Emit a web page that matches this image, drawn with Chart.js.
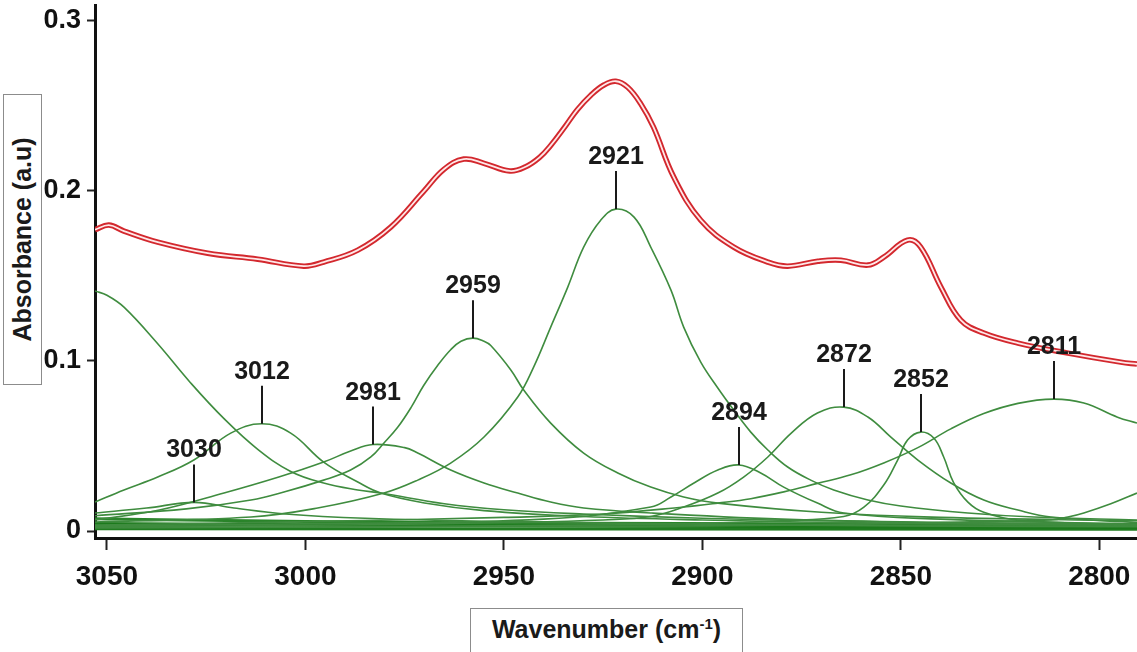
<!DOCTYPE html>
<html>
<head>
<meta charset="utf-8">
<script src="https://cdn.jsdelivr.net/npm/chart.js@4.4.1/dist/chart.umd.min.js"></script>
<style>
  body { margin: 0; background: #fff; }
  #wrap { position: relative; width: 1137px; height: 652px; overflow: hidden; }
  .axis-title {
    position: absolute; box-sizing: border-box; border: 1.5px solid #8c8c8c;
    font: bold 25px "Liberation Sans", Arial, sans-serif; color: #1a1a1a;
    display: flex; align-items: center; justify-content: center; background: #fff;
  }
  #ytitle { left: 3px; top: 94px; width: 39px; height: 291px; }
  #ytitle span { transform: rotate(-90deg); white-space: nowrap; }
  #xtitle { left: 470px; top: 608px; width: 273px; height: 60px; align-items: flex-start; padding-top: 6px; }
  #xtitle sup { font-size: 15px; vertical-align: 9px; line-height: 0; }
</style>
</head>
<body>
<div id="wrap">
  <canvas id="grafica"></canvas>
  <div class="axis-title" id="ytitle"><span>Absorbance (a.u)</span></div>
  <div class="axis-title" id="xtitle"><span>Wavenumber (cm<sup>-1</sup>)</span></div>
</div>
<script>
// ticks
const xTickValues = [3050, 3000, 2950, 2900, 2850, 2800];
const yTickValues = [0, 0.1, 0.2, 0.3];
const yTickLabels = ['0', '0.1', '0.2', '0.3'];

// peak annotations
const peakLabels = ['3030', '3012', '2981', '2959', '2921', '2894', '2872', '2852', '2811'];
const peakWn = [3028, 3011, 2983, 2957.8, 2921.8, 2890.8, 2864.4, 2845, 2811.5];
const peakAbs = [0.0168, 0.0630, 0.0508, 0.1133, 0.1891, 0.0388, 0.0728, 0.0581, 0.0775];

// measured / fitted spectrum [wavenumber, absorbance]
const spectrum = [[3053,0.1770],[3049.5,0.1797],[3045.7,0.1762],[3037.2,0.1697],[3024.6,0.1632],[3012,0.1597],
  [3000.4,0.1556],[2995.4,0.1580],[2986.8,0.1650],[2978.5,0.1785],[2970.2,0.1995],[2965.1,0.2125],[2960.1,0.2185],
  [2955,0.2160],[2948.5,0.2115],[2944.5,0.2140],[2941,0.2195],[2938.2,0.2265],[2934.6,0.2375],[2931.5,0.2475],
  [2928.1,0.2560],[2924.8,0.2620],[2921.8,0.2642],[2918.8,0.2607],[2915.6,0.2513],[2912.3,0.2372],[2907.2,0.2079],
  [2900.4,0.1826],[2892.1,0.1668],[2883.5,0.1580],[2878.5,0.1556],[2870.9,0.1585],[2865.1,0.1591],[2858.3,0.1562],
  [2854.3,0.1609],[2848.3,0.1709],[2845,0.1668],[2839.9,0.1433],[2834.9,0.1239],[2829.1,0.1163],[2820.5,0.1104],
  [2807.9,0.1045],[2794.6,0.0992],[2790.5,0.0981]];

// fitted component bands
const band3060 = [[3053,0.1410],[3050,0.1385],[3045.7,0.1315],[3037.2,0.1100],[3028.9,0.0870],[3020.5,0.0660],
  [3012,0.0480],[3003.7,0.0350],[2995.4,0.0282],[2986.8,0.0241],[2981,0.0223],[2965,0.0160],[2950,0.0125],
  [2930,0.0100],[2900,0.0075],[2870,0.0060],[2840,0.0050],[2790.5,0.0040]];
const band3030 = [[3053,0.0106],[3040,0.0135],[3028,0.0168],[3018,0.0135],[3005,0.0100],[2985,0.0075],
  [2950,0.0055],[2900,0.0040],[2850,0.0030],[2790.5,0.0025]];
const band3012 = [[3053,0.0170],[3045.7,0.0241],[3037.2,0.0317],[3028.1,0.0417],[3018.8,0.0575],[3011,0.0630],
  [3003.7,0.0575],[2995.4,0.0405],[2986.8,0.0288],[2981,0.0223],[2970,0.0165],[2955,0.0120],[2930,0.0085],
  [2900,0.0065],[2850,0.0045],[2790.5,0.0035]];
const band2981 = [[3053,0.0065],[3036.8,0.0123],[3020.5,0.0223],[3006.7,0.0317],[2995.4,0.0405],[2988.6,0.0470],
  [2983,0.0508],[2975,0.0490],[2971.7,0.0458],[2963.4,0.0358],[2955,0.0282],[2946.5,0.0223],[2938.2,0.0170],
  [2929.9,0.0135],[2913,0.0106],[2880,0.0070],[2840,0.0050],[2790.5,0.0038]];
const band2959 = [[3053,0.0090],[3030,0.0130],[3013.7,0.0182],[3005.4,0.0229],[2995.4,0.0299],[2988.6,0.0358],
  [2983.5,0.0435],[2980.2,0.0517],[2976.7,0.0611],[2973.4,0.0725],[2970.2,0.0855],[2966.6,0.0975],[2963.4,0.1065],
  [2960.8,0.1115],[2957.8,0.1133],[2955,0.1115],[2953.3,0.1090],[2948.2,0.0945],[2945,0.0828],[2938.2,0.0634],
  [2929.9,0.0458],[2921.3,0.0341],[2913,0.0258],[2904.7,0.0200],[2896.1,0.0164],[2870,0.0110],[2840,0.0080],
  [2790.5,0.0060]];
const band2921 = [[3053,0.0053],[3013.7,0.0082],[2996.9,0.0135],[2980.2,0.0223],[2971.7,0.0299],[2963.4,0.0399],
  [2955,0.0552],[2946.5,0.0787],[2942.5,0.0963],[2938.2,0.1198],[2933.9,0.1433],[2929.9,0.1668],[2925.6,0.1826],
  [2921.8,0.1891],[2917.2,0.1844],[2913,0.1668],[2907.9,0.1415],[2904.7,0.1198],[2900.4,0.0992],[2896.1,0.0840],
  [2892.1,0.0711],[2887.8,0.0581],[2883.5,0.0476],[2878.5,0.0376],[2872.7,0.0299],[2866.9,0.0241],[2858.3,0.0182],
  [2850,0.0147],[2833.1,0.0106],[2816.5,0.0082],[2790.5,0.0065]];
const band2894 = [[3053,0.0030],[2990,0.0045],[2940,0.0070],[2913,0.0141],[2907.9,0.0200],[2902.1,0.0282],
  [2896.1,0.0358],[2890.8,0.0388],[2885.3,0.0341],[2879.5,0.0258],[2871,0.0164],[2864.4,0.0106],[2840,0.0070],
  [2790.5,0.0040]];
const band2872 = [[3053,0.0025],[2990,0.0035],[2950,0.0050],[2925,0.0065],[2913,0.0085],[2904.7,0.0141],
  [2896.1,0.0223],[2889.6,0.0317],[2883.5,0.0435],[2877.6,0.0575],[2871,0.0693],[2864.4,0.0728],[2858.3,0.0670],
  [2852.5,0.0552],[2845.7,0.0417],[2837.4,0.0282],[2829.1,0.0182],[2820.5,0.0123],[2812.2,0.0082],[2790.5,0.0050]];
const band2852 = [[3053,0.0020],[2950,0.0030],[2900,0.0045],[2880,0.0060],[2864.4,0.0085],[2859.3,0.0140],
  [2854.3,0.0270],[2850.8,0.0417],[2848.3,0.0534],[2845,0.0581],[2841.7,0.0546],[2839.2,0.0435],[2836.7,0.0285],
  [2833.1,0.0170],[2829.1,0.0110],[2820.5,0.0065],[2790.5,0.0035]];
const band2811 = [[3053,0.0035],[3000,0.0055],[2950,0.0080],[2925,0.0100],[2904.7,0.0141],[2896.1,0.0164],
  [2887.8,0.0190],[2879.5,0.0230],[2871,0.0280],[2862.6,0.0330],[2854.3,0.0400],[2845.7,0.0490],[2837.4,0.0600],
  [2829.1,0.0690],[2820.5,0.0750],[2811.5,0.0775],[2803.9,0.0752],[2795.4,0.0669],[2790.5,0.0634]];
const band2780 = [[3053,0.0020],[2900,0.0030],[2850,0.0045],[2825,0.0058],[2812.2,0.0065],[2807.9,0.0082],
  [2803.9,0.0106],[2797.1,0.0160],[2790.5,0.0223]];

// flat tails piling up near zero
const baseA = [[3053,0.0072],[3020,0.0062],[2980,0.0052],[2930,0.0046],[2880,0.0042],[2830,0.0040],[2790.5,0.0040]];
const baseB = [[3053,0.0042],[2990,0.0036],[2920,0.0030],[2860,0.0025],[2790.5,0.0022]];
const baseC = [[3053,0.0014],[2790.5,0.0010]];

const toPts = arr => arr.map(([x, y]) => ({ x, y }));

const bands = [band3060, band3030, band3012, band2981, band2959, band2921, band2894, band2872, band2852, band2811, band2780];
const greenSets = bands.map(b => ({
  data: toPts(b), borderColor: '#3f8c3f', borderWidth: 1.6, order: 2
}));
const baseSets = [
  { data: toPts(baseA), borderColor: '#2a842a', borderWidth: 3, order: 3 },
  { data: toPts(baseB), borderColor: '#1c7a1c', borderWidth: 3.5, order: 3 },
  { data: toPts(baseC), borderColor: '#217d21', borderWidth: 3, order: 3 }
];

const peakMarks = {
  id: 'peakMarks',
  afterDatasetsDraw(chart) {
    const { ctx, scales: { x, y } } = chart;
    ctx.save();
    ctx.strokeStyle = '#1a1a1a';
    ctx.fillStyle = '#1a1a1a';
    ctx.lineWidth = 2;
    ctx.font = 'bold 25px "Liberation Sans", Arial, sans-serif';
    ctx.textAlign = 'center';
    ctx.textBaseline = 'alphabetic';
    peakLabels.forEach((lab, i) => {
      const px = Math.round(x.getPixelForValue(peakWn[i]));
      const py = y.getPixelForValue(peakAbs[i]);
      ctx.beginPath();
      ctx.moveTo(px, py);
      ctx.lineTo(px, py - 38);
      ctx.stroke();
      ctx.fillText(lab, px, py - 45);
    });
    ctx.restore();
  }
};

const fam = "'Liberation Sans', Arial, sans-serif";

const config = {
  type: 'line',
  data: {
    datasets: [
      { data: toPts(spectrum), borderColor: 'rgba(255,232,232,1)', borderWidth: 1.8, order: 0 },
      { data: toPts(spectrum), borderColor: '#d3282e', borderWidth: 5.5, order: 1 },
      ...greenSets,
      ...baseSets
    ]
  },
  options: {
    responsive: true,
    maintainAspectRatio: false,
    animation: false,
    layout: { padding: { top: 5, left: 0, right: 0, bottom: 0 } },
    elements: { point: { radius: 0 }, line: { tension: 0.4, fill: false } },
    plugins: { legend: { display: false }, tooltip: { enabled: false } },
    scales: {
      x: {
        type: 'linear', reverse: true, min: 2790.5, max: 3053,
        afterBuildTicks: s => { s.ticks = xTickValues.map(v => ({ value: v })); },
        afterFit: s => { s.height = 114; s.paddingLeft = 0; s.paddingRight = 0; },
        ticks: { font: { family: fam, size: 28, weight: 'bold' }, color: '#111', padding: 10, maxRotation: 0, callback: v => String(v) },
        grid: { drawOnChartArea: false, drawTicks: true, tickLength: 12, tickWidth: 2, tickColor: '#222' },
        border: { display: true, color: '#111', width: 3 }
      },
      y: {
        min: -0.0041, max: 0.309,
        afterBuildTicks: s => { s.ticks = yTickValues.map(v => ({ value: v })); },
        afterFit: s => { s.width = 95; s.paddingTop = 0; s.paddingBottom = 0; },
        ticks: { font: { family: fam, size: 27, weight: 'bold' }, color: '#111', padding: 6, callback: (v, i) => yTickLabels[i] },
        grid: { drawOnChartArea: false, drawTicks: true, tickLength: 8, tickWidth: 2, tickColor: '#222' },
        border: { display: true, color: '#111', width: 3 }
      }
    }
  },
  plugins: [peakMarks]
};

new Chart(document.querySelector('#grafica'), config);
</script>
</body>
</html>
